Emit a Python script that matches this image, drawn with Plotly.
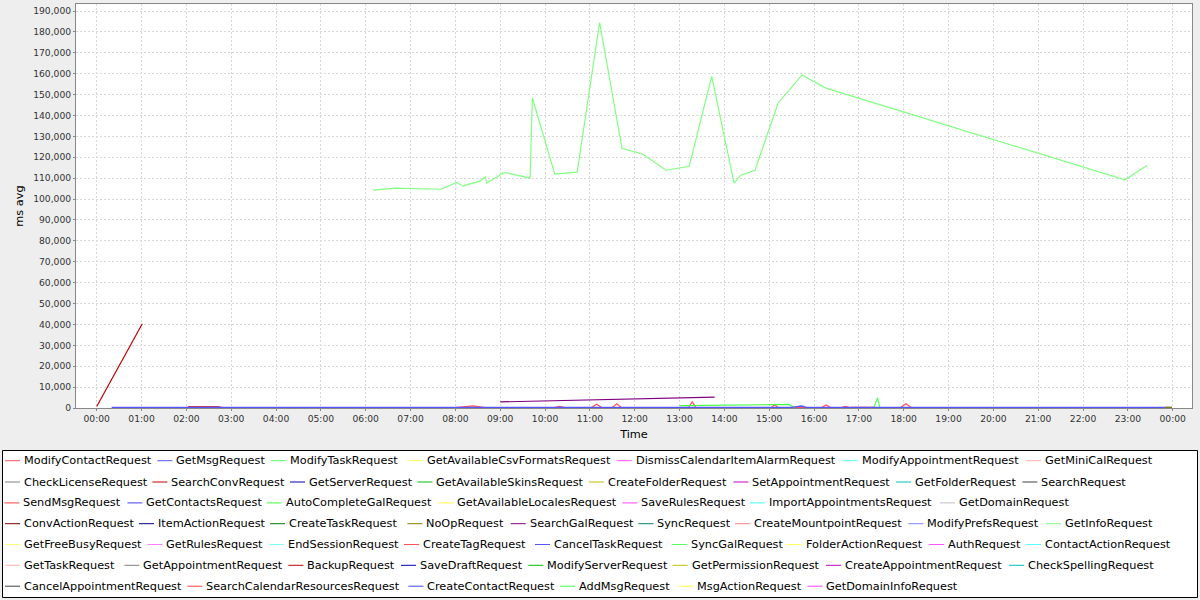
import plotly.graph_objects as go
import pandas as pd

DAY = "2013-05-20"

# ---------------- series (legend order) ----------------
SERIES_NAMES = [
    "ModifyContactRequest", "GetMsgRequest", "ModifyTaskRequest", "GetAvailableCsvFormatsRequest",
    "DismissCalendarItemAlarmRequest", "ModifyAppointmentRequest", "GetMiniCalRequest",
    "CheckLicenseRequest", "SearchConvRequest", "GetServerRequest", "GetAvailableSkinsRequest",
    "CreateFolderRequest", "SetAppointmentRequest", "GetFolderRequest", "SearchRequest",
    "SendMsgRequest", "GetContactsRequest", "AutoCompleteGalRequest", "GetAvailableLocalesRequest",
    "SaveRulesRequest", "ImportAppointmentsRequest", "GetDomainRequest",
    "ConvActionRequest", "ItemActionRequest", "CreateTaskRequest", "NoOpRequest", "SearchGalRequest",
    "SyncRequest", "CreateMountpointRequest", "ModifyPrefsRequest", "GetInfoRequest",
    "GetFreeBusyRequest", "GetRulesRequest", "EndSessionRequest", "CreateTagRequest",
    "CancelTaskRequest", "SyncGalRequest", "FolderActionRequest", "AuthRequest", "ContactActionRequest",
    "GetTaskRequest", "GetAppointmentRequest", "BackupRequest", "SaveDraftRequest",
    "ModifyServerRequest", "GetPermissionRequest", "CreateAppointmentRequest", "CheckSpellingRequest",
    "CancelAppointmentRequest", "SearchCalendarResourcesRequest", "CreateContactRequest",
    "AddMsgRequest", "MsgActionRequest", "GetDomainInfoRequest",
]

# series colour cycle
PALETTE = [
    "#FF5555", "#5555FF", "#55FF55", "#FFFF55", "#FF55FF", "#55FFFF", "#FFAFAF", "#808080",
    "#C00000", "#0000C0", "#00C000", "#C0C000", "#C000C0", "#00C0C0", "#404040",
    "#FF4040", "#4040FF", "#40FF40", "#FFFF40", "#FF40FF", "#40FFFF", "#C0C0C0",
    "#800000", "#000080", "#008000", "#808000", "#800080", "#008080",
    "#FF8080", "#8080FF", "#80FF80", "#FFFF80", "#FF80FF", "#80FFFF",
]

# ---------------- values ----------------
GETINFO_TIMES = ["06:10", "06:39", "07:40", "08:02", "08:10", "08:33", "08:40", "08:42", "09:04",
                 "09:09", "09:40", "09:43", "10:13", "10:43", "11:13", "11:43", "12:11", "12:42",
                 "13:13", "13:43", "14:13", "14:22", "14:41", "15:12", "15:44", "16:15", "22:56",
                 "23:26"]
GETINFO_VALUES = [104250, 105200, 104700, 108000, 106150, 108550, 110600, 107600, 112500,
                  112500, 110000, 148500, 111900, 112850, 184500, 124300, 121450, 113800,
                  115700, 158750, 107600, 111400, 113800, 146000, 159400, 153200, 109200,
                  116200]

BACKUP_TIMES = ["00:00", "01:01"]
BACKUP_VALUES = [700, 40300]

SEARCHGAL_TIMES = ["09:00", "13:47"]
SEARCHGAL_VALUES = [2900, 5200]

AUTOCOMPLETE_TIMES = ["13:00", "15:26", "15:34"]
AUTOCOMPLETE_VALUES = [1100, 1700, 100]

MODIFYTASK_TIMES = ["17:20", "17:25", "17:28"]
MODIFYTASK_VALUES = [200, 4900, 200]

MODIFYCONTACT_TIMES = ["08:00", "08:24", "08:40", "10:12", "10:19", "10:27", "11:02", "11:09",
                       "11:16", "11:30", "11:36", "11:42", "13:12", "13:17", "13:22", "15:03",
                       "15:07", "15:12", "16:10", "16:16", "16:22", "16:36", "16:42", "16:48",
                       "17:56", "18:03", "18:10"]
MODIFYCONTACT_VALUES = [250, 1000, 250, 250, 800, 250, 250, 1800, 250, 250, 2000, 250, 250, 2900,
                        250, 250, 1500, 250, 250, 1500, 250, 250, 800, 250, 250, 2000, 250]

SEARCHCONV_TIMES = ["02:02", "02:43", "02:50", "20:10", "20:16", "21:30", "22:45", "22:50"]
SEARCHCONV_VALUES = [500, 500, 100, 100, 450, 400, 400, 100]

GETMINICAL_TIMES = ["16:50", "17:20"]
GETMINICAL_VALUES = [500, 600]

GETMSG_TIMES = ["00:20", "03:00", "06:00", "09:00", "12:00", "15:30", "15:43", "15:50", "18:00",
                "21:00", "23:59"]
GETMSG_VALUES = [300, 300, 300, 300, 300, 300, 950, 300, 300, 300, 300]

NOOP_TIMES = ["23:50", "23:59"]
NOOP_VALUES = [300, 300]

SERIES_DATA = {
    "GetInfoRequest": (GETINFO_TIMES, GETINFO_VALUES),
    "BackupRequest": (BACKUP_TIMES, BACKUP_VALUES),
    "SearchGalRequest": (SEARCHGAL_TIMES, SEARCHGAL_VALUES),
    "AutoCompleteGalRequest": (AUTOCOMPLETE_TIMES, AUTOCOMPLETE_VALUES),
    "ModifyTaskRequest": (MODIFYTASK_TIMES, MODIFYTASK_VALUES),
    "ModifyContactRequest": (MODIFYCONTACT_TIMES, MODIFYCONTACT_VALUES),
    "SearchConvRequest": (SEARCHCONV_TIMES, SEARCHCONV_VALUES),
    "GetMiniCalRequest": (GETMINICAL_TIMES, GETMINICAL_VALUES),
    "GetMsgRequest": (GETMSG_TIMES, GETMSG_VALUES),
    "NoOpRequest": (NOOP_TIMES, NOOP_VALUES),
}
DRAW_ORDER = ["SearchConvRequest", "ModifyContactRequest", "GetMiniCalRequest",
              "AutoCompleteGalRequest", "ModifyTaskRequest", "GetMsgRequest", "NoOpRequest",
              "SearchGalRequest", "BackupRequest", "GetInfoRequest"]

Y_TICKS = list(range(0, 190001, 10000))
X_TICK_LABELS = ["00:00", "01:00", "02:00", "03:00", "04:00", "05:00", "06:00", "07:00", "08:00",
                 "09:00", "10:00", "11:00", "12:00", "13:00", "14:00", "15:00", "16:00", "17:00",
                 "18:00", "19:00", "20:00", "21:00", "22:00", "23:00", "00:00"]

# ---------------- layout helpers ----------------
W, H = 1200, 600
PL, PR, PT, PB = 76, 1192, 4, 408
FONT = "DejaVu Sans"

LEGEND_ROW_COUNTS = [7, 8, 7, 9, 9, 8, 6]
LEGEND_ROW_Y = [460.7, 482.0, 502.9, 523.7, 544.5, 565.3, 586.2]
LEGEND_TEXT_X = [
    [23.3, 175.7, 289.3, 426.7, 635.0, 861.0, 1044.3],
    [23.3, 170.7, 308.3, 435.7, 607.3, 751.7, 914.3, 1040.7],
    [22.7, 145.7, 285.0, 456.7, 640.7, 768.3, 958.3],
    [23.3, 157.3, 288.3, 425.7, 529.0, 656.7, 753.3, 926.7, 1064.3],
    [23.3, 165.7, 287.3, 422.3, 553.3, 690.0, 805.0, 947.3, 1044.3],
    [23.3, 142.7, 306.7, 419.3, 546.7, 691.0, 844.3, 1027.3],
    [23.3, 205.7, 426.7, 578.3, 696.7, 825.7],
]


def px2x(px):
    return (px - PL) / (PR - PL)


def py2y(py):
    return (PB - py) / (PB - PT)


def to_dt(times):
    return [f"{DAY} {t}:00" for t in times]


base = pd.Timestamp(DAY)
x_start = base + pd.Timedelta(hours=-0.4617)
x_end = base + pd.Timedelta(hours=24.43)
tick_vals = [(base + pd.Timedelta(hours=h)).strftime("%Y-%m-%d %H:%M:%S")
             for h in range(len(X_TICK_LABELS))]

fig = go.Figure()
colors = {n: PALETTE[i % len(PALETTE)] for i, n in enumerate(SERIES_NAMES)}

for name in DRAW_ORDER:
    t, v = SERIES_DATA[name]
    fig.add_trace(go.Scatter(
        x=to_dt(t), y=v, mode="lines", name=name,
        line=dict(color=colors[name], width=1.3 if name == "GetMsgRequest" else 1.2),
        showlegend=False,
    ))

# ---------------- manual flow legend ----------------
shapes = [dict(type="rect", xref="paper", yref="paper",
               x0=px2x(2.5), x1=px2x(1197.5), y0=py2y(450.5), y1=py2y(597.5),
               line=dict(color="black", width=1), fillcolor="white", layer="below")]
annotations = []
idx = 0
for r, cnt in enumerate(LEGEND_ROW_COUNTS):
    yy = LEGEND_ROW_Y[r]
    for c in range(cnt):
        name = SERIES_NAMES[idx]
        tx = LEGEND_TEXT_X[r][c]
        shapes.append(dict(type="line", xref="paper", yref="paper",
                           x0=px2x(tx - 18.3), x1=px2x(tx - 3.3),
                           y0=py2y(yy), y1=py2y(yy),
                           line=dict(color=colors[name], width=1)))
        annotations.append(dict(x=px2x(tx - 1.5), y=py2y(yy), xref="paper", yref="paper",
                                text=name, showarrow=False, xanchor="left", yanchor="middle",
                                font=dict(family=FONT, size=11.3, color="#000000")))
        idx += 1

fig.update_layout(
    width=W, height=H,
    margin=dict(l=PL, r=W - PR, t=PT, b=H - PB),
    paper_bgcolor="#EEEEEE",
    plot_bgcolor="#FFFFFF",
    font=dict(family=FONT, color="#444444"),
    shapes=shapes,
    annotations=annotations,
    showlegend=False,
)

fig.update_xaxes(
    type="date",
    range=[x_start.strftime("%Y-%m-%d %H:%M:%S"), x_end.strftime("%Y-%m-%d %H:%M:%S")],
    tickmode="array", tickvals=tick_vals, ticktext=X_TICK_LABELS,
    tickfont=dict(family=FONT, size=9.2, color="#333333"),
    ticks="outside", ticklen=2, tickcolor="#888888",
    showline=True, linecolor="#888888", linewidth=1, mirror=True,
    showgrid=True, gridcolor="#D8D8D8", griddash="2px,2px", gridwidth=1,
    zeroline=False, layer="below traces",
    title=dict(text="Time", font=dict(family=FONT, size=11.3, color="#000000"), standoff=7),
)
fig.update_yaxes(
    range=[0, 193350],
    tickmode="array", tickvals=Y_TICKS, ticktext=[f"{v:,}" for v in Y_TICKS],
    tickfont=dict(family=FONT, size=9.2, color="#333333"),
    ticks="outside", ticklen=2, tickcolor="#888888",
    showline=True, linecolor="#888888", linewidth=1, mirror=True,
    showgrid=True, gridcolor="#D8D8D8", griddash="2px,2px", gridwidth=1,
    zeroline=False, layer="below traces",
    title=dict(text="ms avg", font=dict(family=FONT, size=11.3, color="#000000"), standoff=7),
)

fig.write_html(
    "out.html",
    config={"displayModeBar": False},
    post_script="document.body.style.margin='0px';"
                "document.body.style.overflow='hidden';"
                "document.body.style.background='#EEEEEE';",
)
